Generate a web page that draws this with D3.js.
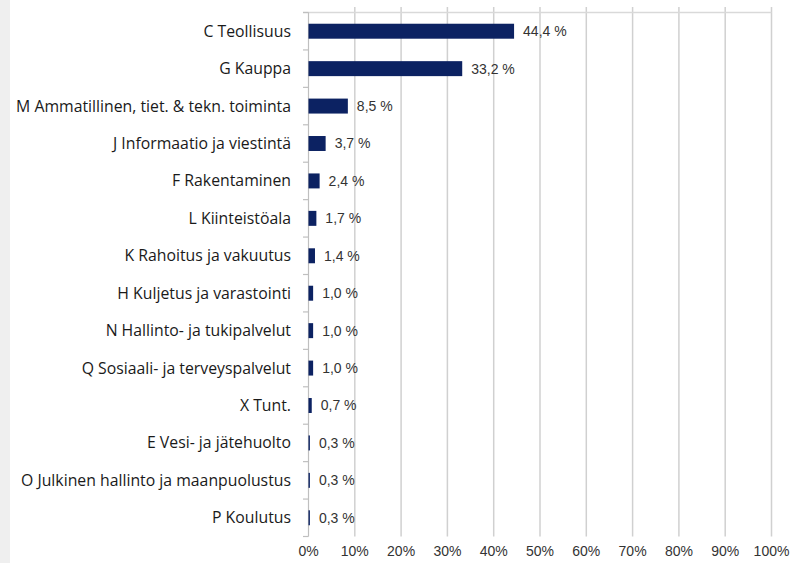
<!DOCTYPE html>
<meta charset="utf-8">
<style>
body { margin: 0; background: #fff; }
.cat text { font-family: "Open Sans", Lato, sans-serif; font-size: 15.8px; fill: #1a1a1a; }
.val { font-family: "Liberation Sans", Arial, sans-serif; font-size: 14px; fill: #333; }
.xlab text { font-family: "Liberation Sans", Arial, sans-serif; font-size: 14px; fill: #333; }
</style>
<svg width="792" height="563"></svg>
<script src="https://d3js.org/d3.v7.min.js"></script>
<script>

var categories = [
  "C Teollisuus",
  "G Kauppa",
  "M Ammatillinen, tiet. & tekn. toiminta",
  "J Informaatio ja viestintä",
  "F Rakentaminen",
  "L Kiinteistöala",
  "K Rahoitus ja vakuutus",
  "H Kuljetus ja varastointi",
  "N Hallinto- ja tukipalvelut",
  "Q Sosiaali- ja terveyspalvelut",
  "X Tunt.",
  "E Vesi- ja jätehuolto",
  "O Julkinen hallinto ja maanpuolustus",
  "P Koulutus"
];
var values = [44.4, 33.2, 8.5, 3.7, 2.4, 1.7, 1.4, 1.0, 1.0, 1.0, 0.7, 0.3, 0.3, 0.3];
var xTicks = [0, 10, 20, 30, 40, 50, 60, 70, 80, 90, 100];

var svg = d3.select("svg");

// grey strip on the left edge
svg.append("rect").attr("x", 0).attr("y", 0).attr("width", 10).attr("height", 563).attr("fill", "#efefef");

var x = d3.scaleLinear().domain([0, 100]).range([308.5, 771.5]);
var y = d3.scaleBand().domain(categories).range([12.5, 536.5]).paddingInner(0.6).paddingOuter(0.3);
var band = d3.scaleBand().domain(categories).range([12.5, 536.5]);

// vertical gridlines
svg.append("g")
  .selectAll("line")
  .data(xTicks.slice(1))
  .enter().append("line")
    .attr("x1", function(d) { return x(d); })
    .attr("x2", function(d) { return x(d); })
    .attr("y1", 7)
    .attr("y2", 536.5)
    .attr("stroke", "#d0d0d0")
    .attr("stroke-width", 1.5);

// top line
svg.append("line")
  .attr("x1", 303).attr("x2", 771.5).attr("y1", 12.5).attr("y2", 12.5)
  .attr("stroke", "#d9d9d9").attr("stroke-width", 1.5);

// category axis
var yAxis = svg.append("g").attr("class", "cat");
yAxis.append("line")
  .attr("x1", x(0)).attr("x2", x(0)).attr("y1", 12.5).attr("y2", 536.5)
  .attr("stroke", "#bfbfbf").attr("stroke-width", 1.2);
yAxis.selectAll("line.tick")
  .data(categories.concat(["end"]))
  .enter().append("line")
    .attr("class", "tick")
    .attr("x1", 303).attr("x2", x(0))
    .attr("y1", function(d, i) { return i < categories.length ? band(d) : 536.5; })
    .attr("y2", function(d, i) { return i < categories.length ? band(d) : 536.5; })
    .attr("stroke", "#bfbfbf").attr("stroke-width", 1.2);
yAxis.selectAll("text")
  .data(categories)
  .enter().append("text")
    .attr("x", 291)
    .attr("y", function(d) { return band(d) + band.bandwidth() / 2; })
    .attr("dy", "0.35em")
    .attr("text-anchor", "end")
    .text(function(d) { return d; });

// bars
svg.append("g")
  .selectAll("rect")
  .data(values)
  .enter().append("rect")
    .attr("x", x(0))
    .attr("y", function(d, i) { return y(categories[i]); })
    .attr("width", function(d) { return x(d) - x(0); })
    .attr("height", y.bandwidth())
    .attr("fill", "#0c2262");

// value labels
svg.append("g")
  .selectAll("text")
  .data(values)
  .enter().append("text")
    .attr("class", "val")
    .attr("x", function(d) { return x(d) + 9; })
    .attr("y", function(d, i) { return band(categories[i]) + band.bandwidth() / 2; })
    .attr("dy", "0.35em")
    .text(function(d) { return d.toFixed(1).replace(".", ",") + " %"; });

// x tick labels
svg.append("g").attr("class", "xlab")
  .selectAll("text")
  .data(xTicks)
  .enter().append("text")
    .attr("x", function(d) { return x(d); })
    .attr("y", 556)
    .attr("text-anchor", "middle")
    .text(function(d) { return d + "%"; });

</script>
